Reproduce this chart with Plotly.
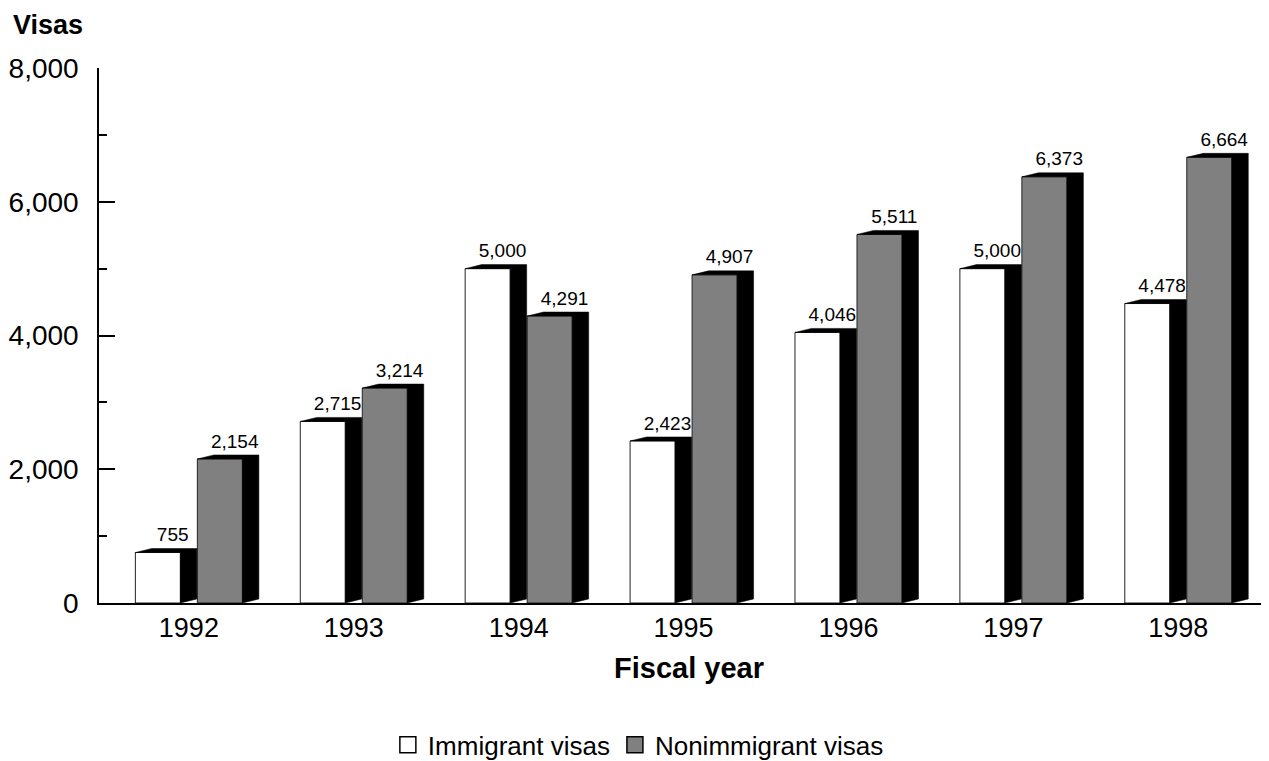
import plotly.graph_objects as go

years = ["1992", "1993", "1994", "1995", "1996", "1997", "1998"]
immigrant = [755, 2715, 5000, 2423, 4046, 5000, 4478]
nonimmigrant = [2154, 3214, 4291, 4907, 5511, 6373, 6664]

series = [
    ("Immigrant visas", immigrant, "#ffffff", -0.188),
    ("Nonimmigrant visas", nonimmigrant, "#808080", 0.188),
]

W = 0.273     # front face width (category units)
DX = 0.1      # depth, horizontal
DY = 60       # depth, vertical (data units)
FONT = "Liberation Sans, Arial, sans-serif"

fig = go.Figure()
idx = list(range(len(years)))

for name, vals, color, off in series:
    # black 3D side + top
    for i, v in zip(idx, vals):
        x0 = i + off - W / 2
        x1 = i + off + W / 2
        fig.add_trace(go.Scatter(
            x=[x0, x0 + DX, x1 + DX, x1 + DX, x1, x1, x0],
            y=[v, v + DY, v + DY, DY, 0, v, v],
            mode="lines", fill="toself", fillcolor="black",
            line=dict(color="black", width=0.5),
            hoverinfo="skip", showlegend=False))

for name, vals, color, off in series:
    fig.add_trace(go.Bar(
        x=idx, y=vals, width=W, offset=off - W / 2,
        marker=dict(color=color, line=dict(color="#222222", width=1)),
        name=name, showlegend=False))
    fig.add_trace(go.Scatter(
        x=[i + off + DX * 0.9 for i in idx], y=[v + DY + 40 for v in vals],
        mode="text", text=[f"{v:,}" for v in vals],
        textposition="top center",
        textfont=dict(family=FONT, size=19, color="black"),
        hoverinfo="skip", showlegend=False))
    fig.add_trace(go.Scatter(
        x=[None], y=[None], mode="markers", name=name,
        marker=dict(symbol="square", size=22, color=color,
                    line=dict(color="black", width=1.5))))

fig.update_layout(
    width=1261, height=753,
    margin=dict(l=91, r=0, t=60, b=158, autoexpand=False),
    plot_bgcolor="white", paper_bgcolor="white",
    barmode="overlay",
    font=dict(family=FONT, size=27, color="black"),
    showlegend=True,
    legend=dict(orientation="h", x=0.461, y=-0.265, xanchor="center",
                yanchor="middle", font=dict(size=26), itemsizing="trace",
                tracegroupgap=0, itemwidth=30),
    xaxis=dict(range=[-0.545, 6.55], tickvals=idx, ticktext=years,
               showline=True, linecolor="black", linewidth=1.5,
               ticks="", showgrid=False, zeroline=False, fixedrange=True,
               automargin=False, tickfont=dict(size=27)),
    yaxis=dict(range=[0, 8000], tickvals=[0, 2000, 4000, 6000, 8000],
               tickformat=",", showline=True, linecolor="black", linewidth=1.5,
               ticks="inside", ticklen=16, tickwidth=1.5, tickcolor="black",
               minor=dict(dtick=1000, ticks="inside", ticklen=8,
                          tickwidth=1.5, tickcolor="black"),
               showgrid=False, zeroline=False, ticklabelstandoff=13,
               automargin=False, tickfont=dict(size=28)),
    annotations=[
        dict(text="<b>Visas</b>", xref="paper", yref="paper",
             x=-0.0751, y=1.080, xanchor="left", yanchor="middle",
             showarrow=False, font=dict(size=27)),
        dict(text="<b>Fiscal year</b>", xref="paper", yref="paper",
             x=0.504, y=-0.1215, xanchor="center", yanchor="middle",
             showarrow=False, font=dict(size=29)),
    ],
)

fig.write_html("out.html")
